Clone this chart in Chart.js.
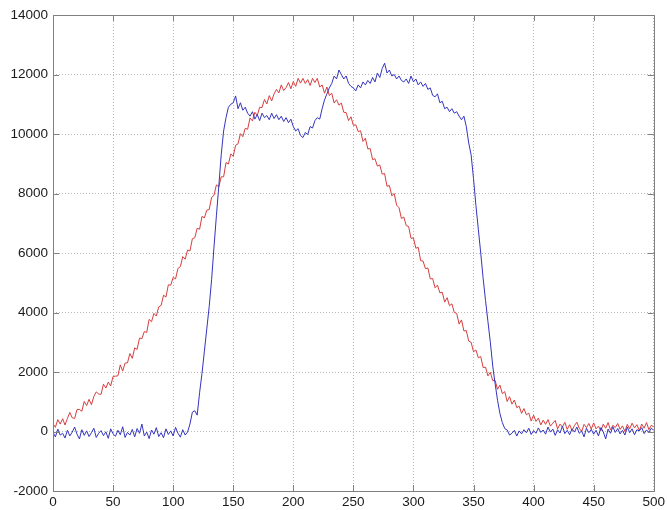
<!DOCTYPE html>
<html>
<head>
<meta charset="utf-8">
<script src="https://cdn.jsdelivr.net/npm/chart.js@4.4.1/dist/chart.umd.min.js"></script>
<style>
    html, body { margin: 0; padding: 0; background: #fff; }
    #wrap { width: 668px; height: 510px; }
</style>
</head>
<body>
<div id="wrap"><canvas id="chart" width="668" height="510"></canvas></div>
<script>
// axis ticks
const xTicks = [0, 50, 100, 150, 200, 250, 300, 350, 400, 450, 500];
const yTicks = [-2000, 0, 2000, 4000, 6000, 8000, 10000, 12000, 14000];

// samples every 2 units along x
const sampleStep = 2;

const blueSeries = [
    -30, -180, 80, -120, -60,
    -220, 40, -150, -20, 150,
    -90, -250, 60, -130, 20,
    -170, -40, 110, -200, -60,
    30, -140, -10, -230, 90,
    -80, -160, 40, -110, 160,
    -200, -30, -120, 70, -180,
    100, -60, 250, -150, -20,
    -240, 50, -90, 130, -170,
    -40, -210, 90, -100, 20,
    -150, 140, -60, -190, 60,
    -120, -20, 250, 650, 700,
    550, 1300, 1950, 2700, 3450,
    4200, 5100, 6200, 7250, 8250,
    9300, 10100, 10550, 10900, 11000,
    11050, 11280, 10850, 11050, 10800,
    10900, 10700, 10600, 10750, 10500,
    10650, 10450, 10700, 10550, 10620,
    10480, 10700, 10520, 10650, 10480,
    10600, 10420, 10550, 10380, 10500,
    10250, 10100, 10180, 9950, 9880,
    10050, 9980, 10250, 10200, 10450,
    10550, 10500, 10850, 11150, 11350,
    11550, 11700, 11950, 11850, 12150,
    12000, 11850, 11950, 11700, 11600,
    11550, 11450, 11650, 11550, 11750,
    11650, 11800, 11700, 11900, 11750,
    12050, 11900, 12200, 12380, 12050,
    12150, 11950, 12000, 11850, 11950,
    11800, 11750, 11850, 11700, 11950,
    11750, 11850, 11650, 11750, 11600,
    11700, 11500, 11550, 11300, 11250,
    11350, 11050, 11100, 10850, 10900,
    10750, 10850, 10700, 10750, 10600,
    10480, 10600, 10250, 9700, 9300,
    8500, 7600, 6800, 6000, 5150,
    4400, 3700, 3000, 2200, 1600,
    1050, 600, 300, 100, 50,
    -120, -60, 40, -150, 20,
    -80, 60, -40, 110, -100,
    30, -60, 120, -30, 50,
    -90, 150, -20, 80, -130,
    60, -50, 180, -70, 40,
    -110, 90, -20, 150, -60,
    20, -180, 110, -40, 70,
    -90, 40, -150, 130, -10,
    -250, 80, -60, 160, -30,
    100, -80, 40, -120, 150,
    -40, 90, -110, 60, 20,
    130, -70, 50, -20, 110,
    40
];

const redSeries = [
    260, 140, 400, 250, 430,
    220, 440, 640, 460, 440,
    740, 740, 680, 1010, 870,
    1080, 900, 1180, 1330, 1260,
    1250, 1590, 1460, 1660, 1530,
    1850, 1860, 1870, 2240, 2030,
    2300, 2310, 2620, 2460, 2810,
    2760, 3140, 3120, 3360, 3330,
    3770, 3690, 3970, 3880, 4190,
    4240, 4580, 4520, 4930, 4920,
    5180, 5130, 5480, 5540, 5880,
    5790, 6100, 6070, 6480, 6510,
    6830, 6800, 7230, 7180, 7440,
    7460, 7870, 7940, 8290, 8220,
    8560, 8560, 9040, 8990, 9330,
    9250, 9620, 9670, 10010, 9910,
    10190, 10160, 10540, 10440, 10730,
    10620, 10900, 10890, 11160, 11010,
    11290, 11110, 11350, 11500, 11380,
    11650, 11460, 11560, 11730, 11520,
    11760, 11600, 11870, 11710, 11870,
    11700, 11830, 11630, 11870, 11730,
    11870, 11580, 11650, 11370, 11580,
    11290, 11370, 11040, 11150, 10970,
    11040, 10730, 10720, 10450, 10580,
    10290, 10310, 10080, 10110, 9750,
    9860, 9500, 9510, 9140, 9170,
    8920, 8960, 8650, 8670, 8240,
    8270, 7920, 8000, 7610, 7520,
    7160, 7210, 6920, 6890, 6490,
    6510, 6160, 6190, 5740, 5730,
    5470, 5500, 5130, 5140, 4830,
    4920, 4660, 4680, 4350, 4500,
    4230, 4290, 4000, 3970, 3610,
    3750, 3380, 3390, 3040, 3000,
    2680, 2740, 2480, 2520, 2150,
    2160, 1870, 1990, 1710, 1710,
    1420, 1560, 1270, 1340, 1010,
    1170, 920, 1060, 800, 850,
    610, 770, 560, 620, 350,
    550, 340, 450, 220, 380,
    240, 400, 180, 280, 370,
    90, 250, 150, 310, 70,
    230, 30, 200, 310, 110,
    0, 240, 130, 270, 80,
    290, 90, 180, 20, 250,
    110, 300, 50, 210, 130,
    270, 70, 190, 0, 240,
    90, 280, 120, 230, 30,
    250, 110, 300, 60, 210,
    150
];

const toPoints = (values) => values.map((v, i) => ({ x: i * sampleStep, y: v }));

const boxColor = '#808080';
const tickLen = 6;

// matlab style box with inward tick marks on all four sides
const boxPlugin = {
    id: 'matlabBox',
    afterDraw(chart) {
        const { ctx, chartArea: a, scales } = chart;
        ctx.save();
        ctx.strokeStyle = boxColor;
        ctx.lineWidth = 1;
        ctx.beginPath();
        xTicks.forEach(v => {
            const px = Math.round(scales.x.getPixelForValue(v)) + 0.5;
            ctx.moveTo(px, a.bottom);
            ctx.lineTo(px, a.bottom - tickLen);
            ctx.moveTo(px, a.top);
            ctx.lineTo(px, a.top + tickLen);
        });
        yTicks.forEach(v => {
            const py = Math.round(scales.y.getPixelForValue(v)) + 0.5;
            ctx.moveTo(a.left, py);
            ctx.lineTo(a.left + tickLen, py);
            ctx.moveTo(a.right, py);
            ctx.lineTo(a.right - tickLen, py);
        });
        ctx.stroke();
        ctx.strokeRect(Math.round(a.left) + 0.5, Math.round(a.top) + 0.5,
            Math.round(a.right - a.left), Math.round(a.bottom - a.top));
        ctx.restore();
    }
};

const tickFont = { family: '"Liberation Sans", Arial, sans-serif', size: 13.5 };
const plainLabel = (value) => String(value);

const conf = {
    type: 'line',
    data: {
        datasets: [
            {
                label: 'blue',
                data: toPoints(blueSeries),
                borderColor: 'rgb(52, 52, 190)',
                borderWidth: 1,
                pointRadius: 0,
                tension: 0,
                fill: false,
            },
            {
                label: 'red',
                data: toPoints(redSeries),
                borderColor: 'rgb(214, 62, 62)',
                borderWidth: 1,
                pointRadius: 0,
                tension: 0,
                fill: false,
            }
        ]
    },
    options: {
        responsive: false,
        animation: false,
        layout: { padding: { top: 15, right: 11, left: 0, bottom: 0 } },
        plugins: {
            legend: { display: false },
            tooltip: { enabled: false },
        },
        scales: {
            x: {
                type: 'linear',
                min: 0,
                max: 500,
                afterBuildTicks: (scale) => { scale.ticks = xTicks.map(v => ({ value: v })); },
                afterFit: (scale) => { scale.height = 19; },
                ticks: { color: '#1a1a1a', font: tickFont, padding: 3, maxRotation: 0, callback: plainLabel },
                grid: { color: '#b8b8b8', drawTicks: false, lineWidth: 1 },
                border: { display: false, dash: [1, 2] },
            },
            y: {
                type: 'linear',
                min: -2000,
                max: 14000,
                afterBuildTicks: (scale) => { scale.ticks = yTicks.map(v => ({ value: v })); },
                afterFit: (scale) => { scale.width = 53; },
                ticks: { color: '#1a1a1a', font: tickFont, padding: 5, callback: plainLabel },
                grid: { color: '#b8b8b8', drawTicks: false, lineWidth: 1 },
                border: { display: false, dash: [1, 2] },
            }
        }
    },
    plugins: [boxPlugin]
};

new Chart(document.getElementById('chart'), conf);
</script>
</body>
</html>
